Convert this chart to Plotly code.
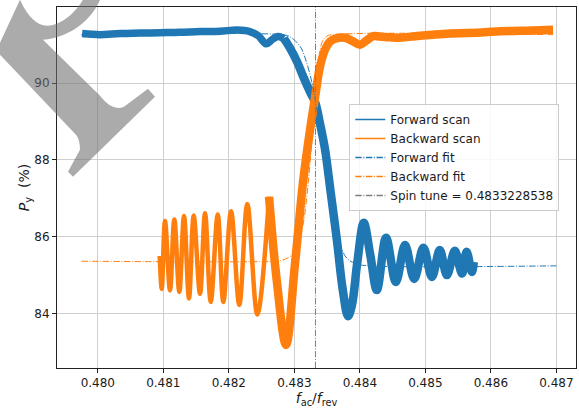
import plotly.graph_objects as go

# ---------------- data ----------------
fwd_x = [0.47976, 0.48003, 0.48034, 0.48064, 0.48095, 0.48125, 0.48156, 0.48187,
         0.48213, 0.48232, 0.48245, 0.48257, 0.48266, 0.48275, 0.48284, 0.48293,
         0.48304, 0.48313, 0.48324, 0.48332, 0.48339, 0.48347, 0.48355, 0.48365,
         0.48374, 0.48382, 0.48388, 0.48396, 0.48406, 0.48416, 0.48426, 0.48440,
         0.48455, 0.48469, 0.48483, 0.48497, 0.48510, 0.48522, 0.48533, 0.48545,
         0.48556, 0.48563, 0.48571, 0.48574]
fwd_y = [91.29, 91.26, 91.29, 91.30, 91.31, 91.32, 91.34, 91.35,
         91.38, 91.34, 91.23, 91.02, 91.13, 91.21, 91.16, 90.92,
         90.56, 90.19, 89.77, 89.49, 88.96, 88.26, 87.22, 85.91,
         84.61, 83.93, 84.22, 85.31, 86.36, 85.52, 84.61, 85.97,
         84.82, 85.78, 84.90, 85.71, 84.95, 85.65, 85.00, 85.63,
         85.04, 85.61, 85.08, 85.34]

bwd_x = [0.480945, 0.480976, 0.481026, 0.481102, 0.481168, 0.481244, 0.481316,
         0.481392, 0.481464, 0.481560, 0.481637, 0.481724, 0.481831, 0.481916,
         0.482034, 0.482160, 0.482282, 0.482435, 0.482614,
         0.482731, 0.482873, 0.483011, 0.483137, 0.483240, 0.483316, 0.483392,
         0.483469, 0.483545, 0.483652, 0.483774, 0.483881, 0.484003, 0.484095,
         0.484202, 0.484308, 0.484461, 0.484614, 0.484843, 0.485118, 0.485377,
         0.485632, 0.485911, 0.486140, 0.486446, 0.486644, 0.486950]
bwd_y = [85.50, 84.64, 86.41, 84.60, 86.45, 84.56, 86.54,
         84.39, 86.55, 84.51, 86.61, 84.30, 86.58, 84.30,
         86.66, 84.22, 86.85, 83.97, 87.04,
         84.87, 83.18, 85.31, 87.48, 88.78, 89.62, 90.43,
         90.87, 91.08, 91.17, 91.18, 91.10, 91.00, 91.10,
         91.22, 91.21, 91.19, 91.18, 91.22, 91.26, 91.29,
         91.30, 91.32, 91.35, 91.36, 91.37, 91.39]

fwdfit_x = [0.47975, 0.48280, 0.48293, 0.48309, 0.48319, 0.48327, 0.48332,
            0.48339, 0.48347, 0.48355, 0.48362, 0.48370, 0.48380, 0.48395,
            0.48416, 0.48700]
fwdfit_y = [91.26, 91.26, 91.21, 90.95, 90.52, 90.00, 89.56,
            88.83, 87.73, 86.82, 86.17, 85.78, 85.44, 85.29,
            85.24, 85.24]

bwdfit_x = [0.47975, 0.48275, 0.482782, 0.482904, 0.482980, 0.483041, 0.483133,
            0.483209, 0.483285, 0.483347, 0.483418, 0.483495, 0.483576, 0.48695]
bwdfit_y = [85.36, 85.36, 85.37, 85.45, 85.55, 85.73, 86.31,
            87.35, 88.78, 89.69, 91.04, 91.22, 91.26, 91.26]

spin_tune = 0.4833228538

x_ticks = [0.480, 0.481, 0.482, 0.483, 0.484, 0.485, 0.486, 0.487]
y_ticks = [84, 86, 88, 90]
x_range = [0.479377, 0.48730]
y_range = [82.58, 91.98]

BLUE = "#1f77b4"
ORANGE = "#ff7f0e"
GRAY = "#7f7f7f"
DASHDOT = "6.4px,1.6px,1px,1.6px"
FONT = "DejaVu Sans"

fig = go.Figure()

# scans (thick noisy bands); split where the noise band thickness changes
split_f = 14
fig.add_trace(go.Scatter(x=fwd_x[:split_f + 1], y=fwd_y[:split_f + 1], mode="lines",
                         line=dict(color=BLUE, width=7.5, shape="spline"),
                         showlegend=False, hoverinfo="skip"))
fig.add_trace(go.Scatter(x=fwd_x[split_f:], y=fwd_y[split_f:], mode="lines",
                         line=dict(color=BLUE, width=8.5, shape="spline"),
                         showlegend=False, hoverinfo="skip"))
split_b = 18
fig.add_trace(go.Scatter(x=bwd_x[:split_b + 1], y=bwd_y[:split_b + 1], mode="lines",
                         line=dict(color=ORANGE, width=4.5, shape="spline"),
                         showlegend=False, hoverinfo="skip"))
fig.add_trace(go.Scatter(x=bwd_x[split_b:], y=bwd_y[split_b:], mode="lines",
                         line=dict(color=ORANGE, width=8.5, shape="spline"),
                         showlegend=False, hoverinfo="skip"))

# fits
fig.add_trace(go.Scatter(x=fwdfit_x, y=fwdfit_y, mode="lines",
                         line=dict(color=BLUE, width=1, dash=DASHDOT, shape="spline"),
                         showlegend=False, hoverinfo="skip"))
fig.add_trace(go.Scatter(x=bwdfit_x, y=bwdfit_y, mode="lines",
                         line=dict(color=ORANGE, width=1, dash=DASHDOT, shape="spline"),
                         showlegend=False, hoverinfo="skip"))
fig.add_trace(go.Scatter(x=[spin_tune, spin_tune], y=y_range, mode="lines",
                         line=dict(color=GRAY, width=1, dash=DASHDOT),
                         showlegend=False, hoverinfo="skip"))

# legend entries
legend_items = [("Forward scan", BLUE, "solid"), ("Backward scan", ORANGE, "solid"),
                ("Forward fit", BLUE, DASHDOT), ("Backward fit", ORANGE, DASHDOT),
                ("Spin tune = %.10f" % spin_tune, GRAY, DASHDOT)]
for name, col, dash in legend_items:
    fig.add_trace(go.Scatter(x=[None], y=[None], mode="lines", name=name,
                             line=dict(color=col, width=1.5, dash=dash)))

# watermark-like gray brush stroke (paper coordinates)
wm_path = ("M -0.1098 0.9008 L -0.0713 1.0202 "
           "C -0.0559 0.9703 -0.0366 0.9482 -0.0193 0.9482 "
           "C 0.0058 0.9482 0.0347 0.9815 0.0501 1.0202 "
           "L 0.0829 1.0202 "
           "C 0.0674 0.9648 0.0250 0.9150 -0.0270 0.9094 "
           "L 0.0829 0.7540 "
           "Q 0.1060 0.7100 0.1291 0.7238 "
           "L 0.1753 0.7737 L 0.1888 0.7515 "
           "L 0.0308 0.5299 L 0.0212 0.5438 "
           "L 0.0443 0.6047 Q 0.0443 0.6324 0.0366 0.6463 "
           "L -0.1098 0.8679 Z")
fig.add_shape(type="path", path=wm_path, xref="paper", yref="paper",
              fillcolor="rgba(110,110,110,0.58)", line=dict(width=0), layer="above")

fig.update_layout(
    width=579, height=408,
    margin=dict(l=57, r=3, t=7, b=40, autoexpand=False),
    paper_bgcolor="white", plot_bgcolor="white",
    font=dict(family=FONT, size=12, color="#1a1a1a"),
    showlegend=True,
    legend=dict(x=0.5632, y=0.7313, xanchor="left", yanchor="top",
                bgcolor="rgba(255,255,255,0.85)", bordercolor="#cccccc", borderwidth=1,
                font=dict(family=FONT, size=12, color="#1a1a1a"),
                tracegroupgap=0, itemwidth=30),
)
fig.update_xaxes(range=x_range, tickvals=x_ticks, ticktext=["%.3f" % v for v in x_ticks],
                 showgrid=True, gridcolor="#cfcfcf", gridwidth=1, zeroline=False,
                 showline=True, linecolor="#222222", linewidth=1, mirror=True,
                 ticks="outside", ticklen=4, tickcolor="#222222", automargin=False,
                 tickfont=dict(family=FONT, size=12),
                 title=dict(text="<i>f</i><sub>ac</sub>/<i>f</i><sub>rev</sub>",
                            font=dict(family=FONT, size=14), standoff=2))
fig.update_yaxes(range=y_range, tickvals=y_ticks, ticktext=[str(v) for v in y_ticks],
                 showgrid=True, gridcolor="#cfcfcf", gridwidth=1, zeroline=False,
                 showline=True, linecolor="#222222", linewidth=1, mirror=True,
                 ticks="outside", ticklen=4, tickcolor="#222222", automargin=False,
                 tickfont=dict(family=FONT, size=12),
                 title=dict(text="<i>P</i><sub>y</sub>&nbsp;&nbsp;(%)",
                            font=dict(family=FONT, size=14), standoff=0))

fig.write_html("out.html",
               config={"displayModeBar": False},
               post_script="document.body.style.margin='0px';"
                           "document.body.style.overflow='hidden';")
